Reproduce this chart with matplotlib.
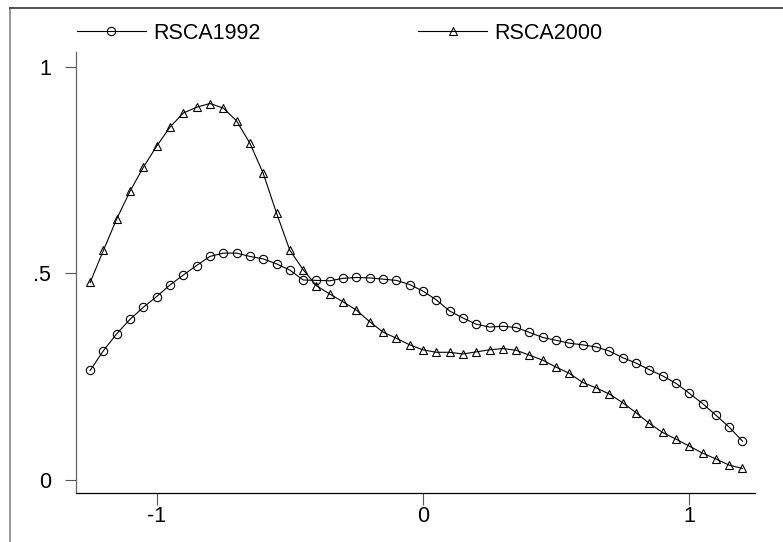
import matplotlib
matplotlib.use("Agg")
import matplotlib.pyplot as plt
from matplotlib.lines import Line2D

plt.rcParams["font.family"] = ["Liberation Sans", "DejaVu Sans"]

# evaluation grid (x) and the two density curves
x_grid = [-1.25, -1.20, -1.15, -1.10, -1.05, -1.00, -0.95, -0.90, -0.85, -0.80,
          -0.75, -0.70, -0.65, -0.60, -0.55, -0.50, -0.45, -0.40, -0.35, -0.30,
          -0.25, -0.20, -0.15, -0.10, -0.05, 0.00, 0.05, 0.10, 0.15, 0.20,
          0.25, 0.30, 0.35, 0.40, 0.45, 0.50, 0.55, 0.60, 0.65, 0.70,
          0.75, 0.80, 0.85, 0.90, 0.95, 1.00, 1.05, 1.10, 1.15, 1.20]

rsca1992 = [0.265, 0.313, 0.354, 0.389, 0.418, 0.444, 0.472, 0.496, 0.519, 0.541,
            0.549, 0.549, 0.541, 0.535, 0.523, 0.508, 0.484, 0.483, 0.482, 0.488,
            0.490, 0.489, 0.486, 0.483, 0.473, 0.457, 0.436, 0.409, 0.392, 0.377,
            0.370, 0.372, 0.369, 0.357, 0.345, 0.338, 0.331, 0.327, 0.322, 0.312,
            0.296, 0.283, 0.267, 0.252, 0.234, 0.210, 0.185, 0.157, 0.128, 0.094]

rsca2000 = [0.478, 0.556, 0.632, 0.699, 0.757, 0.808, 0.854, 0.888, 0.902, 0.911,
            0.900, 0.869, 0.815, 0.742, 0.646, 0.556, 0.509, 0.470, 0.450, 0.431,
            0.411, 0.383, 0.358, 0.343, 0.327, 0.315, 0.309, 0.309, 0.305, 0.310,
            0.315, 0.318, 0.314, 0.302, 0.290, 0.273, 0.258, 0.236, 0.223, 0.208,
            0.187, 0.163, 0.137, 0.115, 0.099, 0.082, 0.065, 0.051, 0.036, 0.028]

x_ticks = [-1, 0, 1]
x_labels = ["-1", "0", "1"]
y_ticks = [0, 0.5, 1]
y_labels = ["0", ".5", "1"]

fig = plt.figure(figsize=(7.83, 5.42), dpi=100, facecolor="white")
ax = fig.add_axes([0.0971, 0.0904, 0.8671, 0.8136])

l1, = ax.plot(x_grid, rsca1992, color="black", lw=0.8, marker="o", ms=6,
              mfc="none", mec="black", mew=0.8)
l2, = ax.plot(x_grid, rsca2000, color="black", lw=0.8, marker="^", ms=6,
              mfc="none", mec="black", mew=0.8)

ax.set_xlim(-1.303, 1.247)
ax.set_ylim(-0.0315, 1.0356)
ax.set_xticks(x_ticks)
ax.set_xticklabels(x_labels)
ax.set_yticks(y_ticks)
ax.set_yticklabels(y_labels)
ax.tick_params(axis="x", length=8.6, width=0.8, color="#555555", pad=1, labelsize=15.5)
ax.tick_params(axis="y", length=8, width=0.8, color="#555555", pad=10, labelsize=15.5)

ax.spines["top"].set_visible(False)
ax.spines["right"].set_visible(False)
ax.spines["left"].set_color("#666666")
ax.spines["left"].set_linewidth(0.9)
ax.spines["bottom"].set_color("black")
ax.spines["bottom"].set_linewidth(0.9)

# legend entries, placed side by side at the top
fig.legend([l1], ["RSCA1992"], loc="center left", bbox_to_anchor=(0.0983, 0.939),
           frameon=False, fontsize=15.5, handlelength=3.2, handletextpad=0.35,
           borderpad=0, borderaxespad=0)
fig.legend([l2], ["RSCA2000"], loc="center left", bbox_to_anchor=(0.534, 0.939),
           frameon=False, fontsize=15.5, handlelength=3.2, handletextpad=0.35,
           borderpad=0, borderaxespad=0)

# outer graph frame (left and top edges visible)
fig.add_artist(Line2D([10 / 783, 10 / 783], [0, 1 - 8 / 542], transform=fig.transFigure,
                      color="#888888", lw=1.2))
fig.add_artist(Line2D([10 / 783, 1], [1 - 8 / 542, 1 - 8 / 542], transform=fig.transFigure,
                      color="#333333", lw=1.2))

fig.savefig("out.png", dpi=100, facecolor="white")
